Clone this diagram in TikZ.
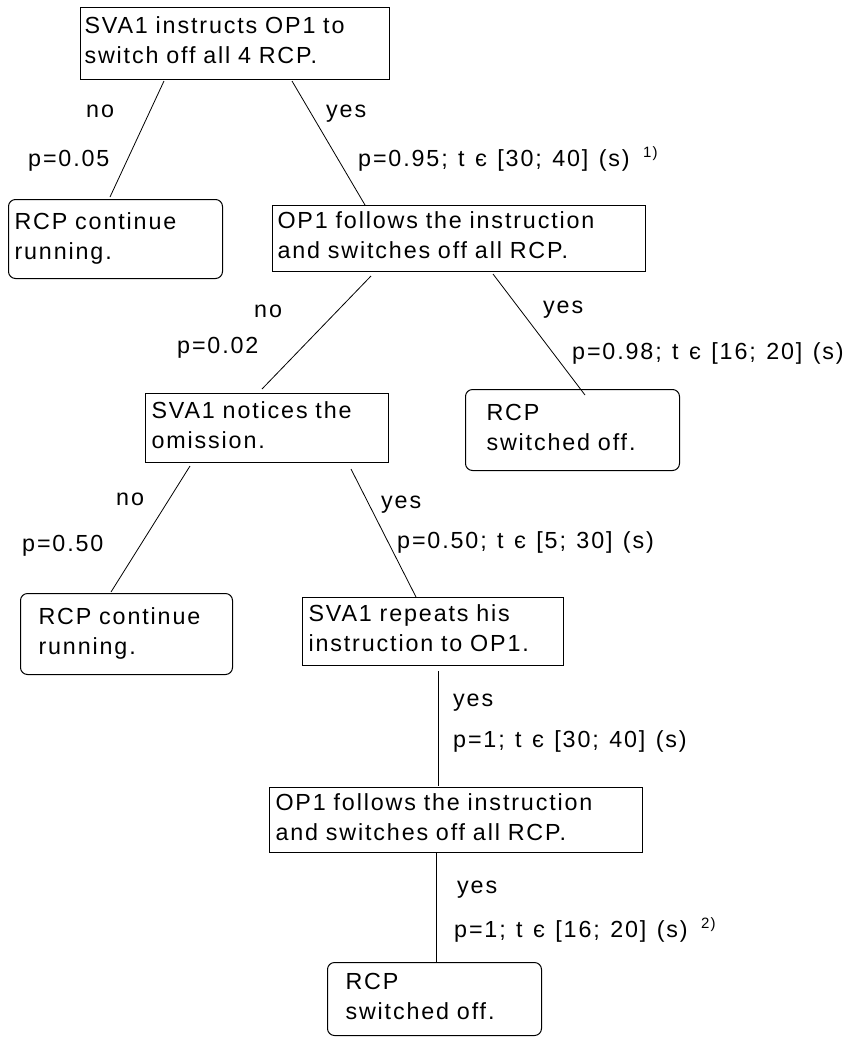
\documentclass[tikz,border=0pt]{standalone}
\usepackage{fontspec}
\setmainfont{Liberation Sans}[LetterSpace=8, WordSpace=1.25]
\newcommand\treefont{\fontsize{23.3}{30}\selectfont}
\newcommand\fnmark[1]{\hspace{3pt}{\fontsize{15}{15}\selectfont\raisebox{9pt}{#1}}}
\tikzset{
  evbox/.style={draw, line width=1pt, anchor=north west, inner ysep=0pt,
    text height=20pt, text depth=40pt, font=\treefont, align=left},
  endbox/.style={evbox, rounded corners=7pt},
  branch/.style={line width=0.8pt},
  blabel/.style={anchor=base west, inner sep=0pt, font=\treefont},
}
\begin{document}
\begin{tikzpicture}[x=1pt,y=-1pt]
  \useasboundingbox (0,0) rectangle (843,1037);

  % event boxes
  \node[evbox, inner xsep=4pt, text width=301pt, minimum height=72pt] (svainstr) at (80,7)
    {SVA1 instructs OP1 to\\switch off all 4 RCP.};
  \node[endbox, inner xsep=6pt, text width=202pt, minimum height=79pt] (runa) at (8,199)
    {RCP continue\\running.};
  \node[evbox, inner xsep=5pt, text width=363pt, minimum height=66pt] (opfollowa) at (272,205)
    {OP1 follows the instruction\\and switches off all RCP.};
  \node[evbox, inner xsep=6pt, text width=231pt, minimum height=69pt] (svanotice) at (145,393)
    {SVA1 notices the\\omission.};
  \node[endbox, inner xsep=21pt, text width=172pt, minimum height=81pt] (offa) at (465,389)
    {RCP\\switched off.};
  \node[endbox, inner xsep=18pt, text width=176pt, minimum height=81pt] (runb) at (20,593)
    {RCP continue\\running.};
  \node[evbox, inner xsep=6pt, text width=249pt, minimum height=68pt] (svarep) at (302,597)
    {SVA1 repeats his\\instruction to OP1.};
  \node[evbox, inner xsep=6pt, text width=361pt, minimum height=65pt] (opfollowb) at (269,787)
    {OP1 follows the instruction\\and switches off all RCP.};
  \node[endbox, inner xsep=18pt, text width=178pt, minimum height=73pt] (offb) at (327,962)
    {RCP\\switched off.};

  % branches
  \draw[branch] ([xshift=84pt,yshift=-1pt]svainstr.south west) -- ([xshift=102pt,yshift=2pt]runa.north west);
  \draw[branch] ([xshift=212pt,yshift=-1pt]svainstr.south west) -- ([xshift=93pt]opfollowa.north west);
  \draw[branch] ([xshift=99pt,yshift=-4pt]opfollowa.south west) -- ([xshift=117pt,yshift=4pt]svanotice.north west);
  \draw[branch] ([xshift=221pt,yshift=-2pt]opfollowa.south west) -- ([xshift=120pt,yshift=-6pt]offa.north west);
  \draw[branch] ([xshift=45pt,yshift=-3pt]svanotice.south west) -- ([xshift=91pt,yshift=1pt]runb.north west);
  \draw[branch] ([xshift=206pt,yshift=-6pt]svanotice.south west) -- ([xshift=114pt]svarep.north west);
  \draw[branch] ([xshift=136pt,yshift=-5pt]svarep.south west) -- ([xshift=169pt,yshift=1pt]opfollowb.north west);
  \draw[branch] ([xshift=167pt]opfollowb.south west) -- ([xshift=109pt]offb.north west);

  % branch labels
  \node[blabel] (noa) at (86,117) {no};
  \node[blabel] (pnoa) at (28,166) {p=0.05};
  \node[blabel] (yesa) at (326,117) {yes};
  \node[blabel] (pyesa) at (358,166) {p=0.95; t є [30; 40] (s) \fnmark{1)}};
  \node[blabel] (nob) at (254,317) {no};
  \node[blabel] (pnob) at (177,353) {p=0.02};
  \node[blabel] (yesb) at (543,313) {yes};
  \node[blabel] (pyesb) at (572,359) {p=0.98; t є [16; 20] (s)};
  \node[blabel] (noc) at (116,505) {no};
  \node[blabel] (pnoc) at (22,551) {p=0.50};
  \node[blabel] (yesc) at (381,508) {yes};
  \node[blabel] (pyesc) at (397,548) {p=0.50; t є [5; 30] (s)};
  \node[blabel] (yesd) at (453,706) {yes};
  \node[blabel] (pyesd) at (453,747) {p=1; t є [30; 40] (s)};
  \node[blabel] (yese) at (457,893) {yes};
  \node[blabel] (pyese) at (454,937) {p=1; t є [16; 20] (s) \fnmark{2)}};
\end{tikzpicture}
\end{document}
